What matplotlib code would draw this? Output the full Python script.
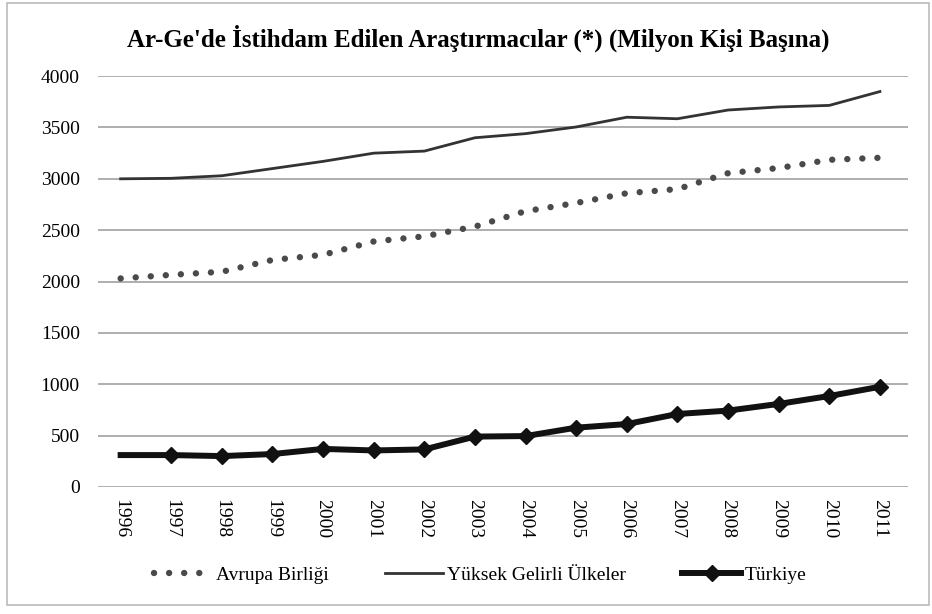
import matplotlib
matplotlib.use("Agg")
import matplotlib.pyplot as plt
from matplotlib.patches import Rectangle

years = ["1996", "1997", "1998", "1999", "2000", "2001", "2002", "2003",
         "2004", "2005", "2006", "2007", "2008", "2009", "2010", "2011"]
avrupa = [2030, 2065, 2095, 2210, 2260, 2390, 2440, 2535,
          2685, 2765, 2860, 2900, 3055, 3105, 3185, 3205]
yuksek = [3000, 3005, 3030, 3100, 3170, 3250, 3270, 3400,
          3440, 3505, 3600, 3585, 3670, 3700, 3715, 3850]
turkiye = [310, 310, 300, 320, 370, 355, 365, 490,
           495, 577, 612, 710, 743, 808, 885, 975]

plt.rcParams['font.family'] = ['Liberation Serif', 'DejaVu Serif']

fig = plt.figure(figsize=(9.32, 6.14), dpi=100)
ax = fig.add_axes([0.105, 0.207, 0.869, 0.669])

x = list(range(len(years)))
ax.plot(x, avrupa, color='#4a4a4a', linewidth=4.6,
        linestyle=(0, (0.01, 2.35)), dash_capstyle='round',
        label='Avrupa Birliği')
ax.plot(x, yuksek, color='#333333', linewidth=2, label='Yüksek Gelirli Ülkeler')
ax.plot(x, turkiye, color='#111111', linewidth=4.3, marker='D', markersize=8.5,
        markevery=list(range(1, len(years))), label='Türkiye')

ax.set_xlim(-0.45, 15.55)
ax.set_ylim(0, 4000)
ax.set_yticks(range(0, 4001, 500))
ax.set_xticks(x)
ax.set_xticklabels(years, rotation=-90, fontsize=14)
ax.tick_params(axis='y', labelsize=14, length=0, pad=13)
ax.tick_params(axis='x', length=0, pad=9)
ax.grid(axis='y', color='#a8a8a8', linewidth=1.3)
ax.set_axisbelow(True)
for s in ax.spines.values():
    s.set_visible(False)

fig.text(0.513, 0.938, "Ar-Ge'de İstihdam Edilen Araştırmacılar (*) (Milyon Kişi Başına)",
         ha='center', va='center', fontsize=18, fontweight='bold')

fig.legend(loc='center', bbox_to_anchor=(0.515, 0.064), ncol=3, frameon=False,
           fontsize=14, handlelength=3, columnspacing=2.9, handletextpad=0.2)

fig.patches.append(Rectangle((0.007, 0.015), 0.99, 0.98, transform=fig.transFigure,
                             fill=False, edgecolor='#bbbbbb', linewidth=1.2))

fig.savefig("out.png", dpi=100)
